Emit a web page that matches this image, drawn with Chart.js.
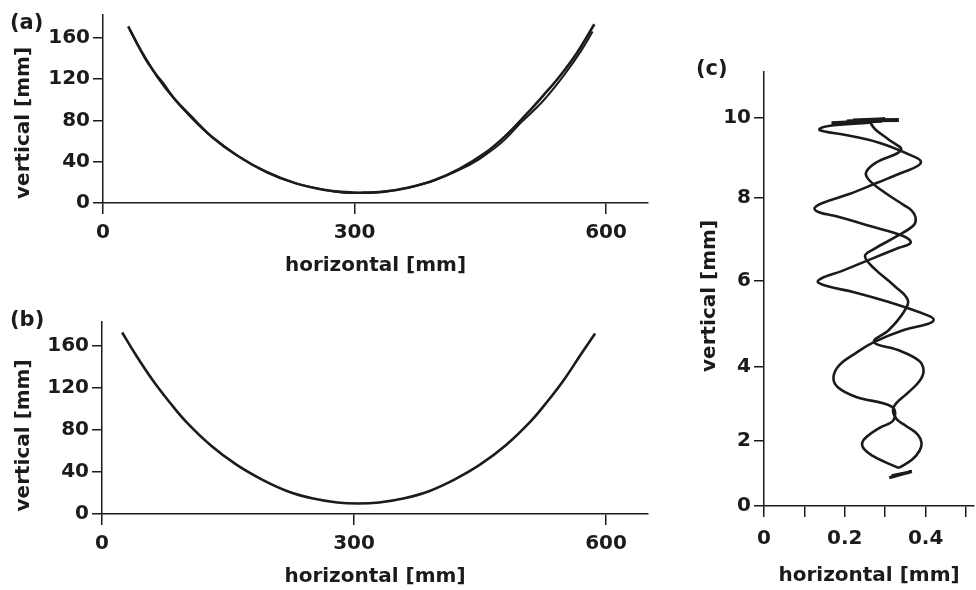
<!DOCTYPE html>
<html>
<head>
<meta charset="utf-8">
<script src="https://cdn.jsdelivr.net/npm/chart.js@4.4.1/dist/chart.umd.min.js"></script>
<style>
  body { margin: 0; background: #fff; }
  #wrap { position: relative; width: 976px; height: 590px; overflow: hidden; background: #fff; }
  canvas { position: absolute; }
  .tag { position: absolute; font: bold 21px "DejaVu Sans", sans-serif; color: #1b1b1b; }
</style>
</head>
<body>
<div id="wrap">
  <canvas id="chartA" width="660" height="290" style="left:0;top:0"></canvas>
  <canvas id="chartB" width="660" height="290" style="left:0;top:300px"></canvas>
  <canvas id="chartC" width="286" height="550" style="left:690px;top:40px"></canvas>
  <div class="tag" style="left:10px;top:10px">(a)</div>
  <div class="tag" style="left:10px;top:307px">(b)</div>
  <div class="tag" style="left:696px;top:56px">(c)</div>
</div>
<script>
// (a) measured path, two passes that almost lie on top of each other
const aPass1H = [30, 45, 65, 85, 105, 130, 160, 195, 230, 265, 290, 310, 335, 365, 395, 425, 455, 480, 505, 525, 545, 565, 586];
const aPass1V = [171, 148, 122, 101, 84, 64, 46, 30, 19, 12.5, 10.5, 10, 11, 15, 22, 33, 48, 65, 86, 104, 123, 145, 173];
const aPass2H = [32, 50, 62, 72, 90, 130, 195, 265, 310, 365, 425, 470, 500, 525, 550, 570, 584];
const aPass2V = [168, 140, 126, 116, 96, 64, 30, 12.5, 10, 15, 32, 55, 79, 99, 124, 147, 166];

// (b) computed path
const bH = [24, 40, 60, 80, 100, 130, 160, 190, 220, 250, 280, 305, 330, 360, 390, 420, 450, 480, 510, 530, 550, 570, 587];
const bV = [173, 152, 128, 107, 88, 65, 47, 33, 22, 15, 11, 10, 11, 15, 22, 33, 47, 65, 88, 107, 128, 152, 172];

// (c) the two strands, bottom to top, plus the smudges at each end
const cStrand1H = [0.334, 0.300, 0.268, 0.248, 0.243, 0.255, 0.285, 0.321, 0.317, 0.228, 0.182, 0.172, 0.187, 0.228, 0.272, 0.346, 0.405, 0.420, 0.405, 0.309, 0.223, 0.160, 0.133, 0.150, 0.187, 0.260, 0.334, 0.363, 0.346, 0.260, 0.174, 0.138, 0.125, 0.145, 0.211, 0.280, 0.346, 0.380, 0.388, 0.370, 0.285, 0.199, 0.150, 0.137, 0.160, 0.260];
const cStrand1V = [1.17, 1.35, 1.55, 1.75, 1.94, 2.12, 2.35, 2.57, 2.92, 3.19, 3.46, 3.73, 4.05, 4.33, 4.58, 4.86, 5.00, 5.10, 5.20, 5.51, 5.74, 5.87, 5.98, 6.10, 6.22, 6.51, 6.80, 6.92, 7.08, 7.33, 7.57, 7.65, 7.75, 7.88, 8.10, 8.38, 8.65, 8.80, 8.92, 9.04, 9.38, 9.58, 9.66, 9.72, 9.80, 9.88];
const cStrand2H = [0.334, 0.366, 0.385, 0.390, 0.380, 0.350, 0.326, 0.321, 0.358, 0.385, 0.395, 0.383, 0.330, 0.272, 0.309, 0.346, 0.356, 0.321, 0.272, 0.250, 0.272, 0.329, 0.371, 0.375, 0.365, 0.346, 0.297, 0.260, 0.253, 0.280, 0.339, 0.310, 0.275, 0.262];
const cStrand2V = [1.17, 1.42, 1.70, 1.94, 2.18, 2.42, 2.62, 2.92, 3.32, 3.62, 3.90, 4.15, 4.40, 4.58, 4.86, 5.28, 5.56, 5.90, 6.31, 6.60, 6.77, 7.08, 7.35, 7.54, 7.70, 7.83, 8.15, 8.45, 8.65, 8.90, 9.20, 9.45, 9.72, 9.90];
const cTopH = [0.167, 0.292, 0.205, 0.300, 0.220, 0.334];
const cTopV = [9.87, 9.93, 9.91, 9.97, 9.94, 9.95];
const cBottomH = [0.310, 0.366, 0.316, 0.360, 0.330];
const cBottomV = [0.87, 1.06, 0.93, 1.03, 0.96];

// ticks
const abXTicks = [0, 300, 600];
const abYTicks = [0, 40, 80, 120, 160];
const cXTicks = [0, 0.1, 0.2, 0.3, 0.4, 0.5];
const cXLabels = [0, 0.2, 0.4];
const cYTicks = [0, 2, 4, 6, 8, 10];

// the vertical axis of (c) has unequal gaps between its ticks in the original
const cYStops = [0, 2, 4, 6, 8, 10, 11.15];
const cYGaps = [65, 74, 86, 83, 80, 46];

class UnevenScale extends Chart.LinearScale {
  static id = 'uneven';
  toDecimal(v) {
    const total = cYGaps.reduce((a, b) => a + b, 0);
    let acc = 0;
    for (let i = 0; i < cYGaps.length; i++) {
      const lo = cYStops[i], hi = cYStops[i + 1];
      if (v <= hi || i === cYGaps.length - 1) {
        return (acc + (v - lo) / (hi - lo) * cYGaps[i]) / total;
      }
      acc += cYGaps[i];
    }
    return 1;
  }
  getPixelForValue(v) {
    if (v === null || v === undefined || isNaN(v)) return NaN;
    return this.getPixelForDecimal(this.toDecimal(v));
  }
  getValueForPixel(p) {
    const total = cYGaps.reduce((a, b) => a + b, 0);
    let d = this.getDecimalForPixel(p) * total;
    for (let i = 0; i < cYGaps.length; i++) {
      if (d <= cYGaps[i] || i === cYGaps.length - 1) {
        return cYStops[i] + d / cYGaps[i] * (cYStops[i + 1] - cYStops[i]);
      }
      d -= cYGaps[i];
    }
    return cYStops[cYStops.length - 1];
  }
}
Chart.register(UnevenScale);

const INK = '#1b1b1b';
const FONT = '"DejaVu Sans", sans-serif';

const pts = (hs, vs) => hs.map((h, i) => ({ x: h, y: vs[i] }));

function line(data, width, tension) {
  return { data, showLine: true, borderColor: INK, borderWidth: width, pointRadius: 0, tension, fill: false };
}

function xAxis(max, ticks, labels, height, tickPad, titlePad) {
  return {
    type: 'linear', min: 0, max,
    afterBuildTicks: s => { s.ticks = ticks.map(v => ({ value: v })); },
    afterFit: s => { s.height = height; },
    grid: { drawOnChartArea: false, color: INK, lineWidth: 1.5, tickLength: 11 },
    border: { color: INK, width: 1.5 },
    ticks: {
      color: INK, padding: tickPad, maxRotation: 0, autoSkip: false,
      font: { family: FONT, size: 20, weight: 'bold' },
      callback: v => labels.includes(v) ? String(v) : ''
    },
    title: {
      display: true, text: 'horizontal [mm]', color: INK,
      font: { family: FONT, size: 20, weight: 'bold' },
      padding: { top: 0, bottom: titlePad }
    }
  };
}

// the title sits a little below the middle of the axis, hence the trailing spaces
function yAxis(type, max, ticks, width, titlePad, shift) {
  return {
    type, min: 0, max,
    afterBuildTicks: s => { s.ticks = ticks.map(v => ({ value: v })); },
    afterFit: s => { s.width = width; },
    grid: { drawOnChartArea: false, color: INK, lineWidth: 1.5, tickLength: 10 },
    border: { color: INK, width: 1.5 },
    ticks: {
      color: INK, padding: 3, autoSkip: false,
      font: { family: FONT, size: 20, weight: 'bold' },
      callback: v => String(v)
    },
    title: {
      display: true, text: 'vertical [mm]' + ' '.repeat(shift), color: INK,
      font: { family: FONT, size: 20, weight: 'bold' },
      padding: { top: titlePad, bottom: 0 }
    }
  };
}

const common = {
  responsive: false,
  animation: false,
  devicePixelRatio: 1,
  plugins: { legend: { display: false }, tooltip: { enabled: false } }
};

new Chart(document.getElementById('chartA'), {
  type: 'scatter',
  data: {
    datasets: [
      line(pts(aPass1H, aPass1V), 2.6, 0.4),
      line(pts(aPass2H, aPass2V), 2, 0.4)
    ]
  },
  options: {
    ...common,
    layout: { padding: { top: 12, right: 12, left: 0, bottom: 0 } },
    scales: {
      x: xAxis(650, abXTicks, abXTicks, 87, 7, 12),
      y: yAxis('linear', 182, abYTicks, 103, 12, 4)
    }
  }
});

new Chart(document.getElementById('chartB'), {
  type: 'scatter',
  data: { datasets: [line(pts(bH, bV), 2.6, 0.4)] },
  options: {
    ...common,
    layout: { padding: { top: 22, right: 12, left: 0, bottom: 0 } },
    scales: {
      x: xAxis(650, abXTicks, abXTicks, 76, 7, 1),
      y: yAxis('linear', 183, abYTicks, 102, 12, 5)
    }
  }
});

new Chart(document.getElementById('chartC'), {
  type: 'scatter',
  data: {
    datasets: [
      line(pts(cStrand1H, cStrand1V), 2.6, 0.4),
      line(pts(cStrand2H, cStrand2V), 2.6, 0.4),
      line(pts(cTopH, cTopV), 4, 0),
      line(pts(cBottomH, cBottomV), 3, 0)
    ]
  },
  options: {
    ...common,
    layout: { padding: { top: 32, right: 0, left: 0, bottom: 0 } },
    scales: {
      x: xAxis(0.52, cXTicks, cXLabels, 84, 10, 2),
      y: yAxis('uneven', 11.15, cYTicks, 74, 8, 2)
    }
  }
});
</script>
</body>
</html>
